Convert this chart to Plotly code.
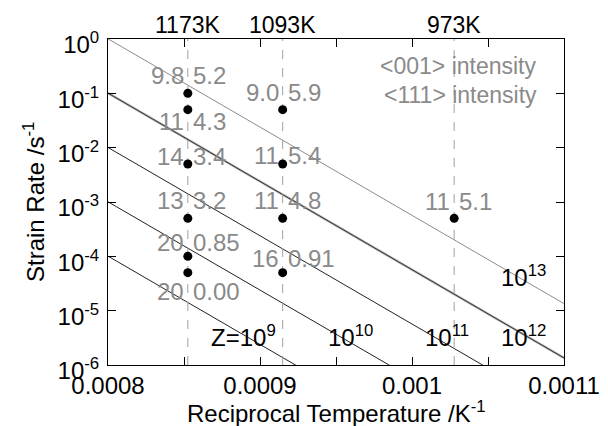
import numpy as np
import plotly.graph_objects as go

# ---------------- data ----------------
temps_K = [1173, 1093, 973]
temp_labels = ["1173K", "1093K", "973K"]

pt_T = [1173, 1173, 1173, 1173, 1173, 1173, 1093, 1093, 1093, 1093, 973]
pt_rate = [1e-1, 5e-2, 5e-3, 5e-4, 1e-4, 5e-5, 5e-2, 5e-3, 5e-4, 5e-5, 5e-4]
int_001 = ["9.8", "11", "14", "13", "20", "20", "9.0", "11", "11", "16", "11"]
int_111 = ["5.2", "4.3", "3.4", "3.2", "0.85", "0.00", "5.9", "5.4", "4.8", "0.91", "5.1"]

Z_values = [1e9, 1e10, 1e11, 1e12, 1e13]
Z_labels = ["Z=10<sup>9</sup>", "10<sup>10</sup>", "10<sup>11</sup>", "10<sup>12</sup>", "10<sup>13</sup>"]
Q_act = 311e3   # J/mol
R_gas = 8.314

x_tickvals = [0.0008, 0.00085, 0.0009, 0.00095, 0.001, 0.00105, 0.0011]
x_ticktext = ["0.0008", "", "0.0009", "", "0.001", "", "0.0011"]
y_tickvals = [1e-6, 1e-5, 1e-4, 1e-3, 1e-2, 1e-1, 1e0]
y_ticktext = ["10<sup>-6</sup>", "10<sup>-5</sup>", "10<sup>-4</sup>", "10<sup>-3</sup>",
              "10<sup>-2</sup>", "10<sup>-1</sup>", "10<sup>0</sup>"]

# ---------------- style (positions of text labels, px offsets) ----------------
label_dy = [-18, 12, -8, -18, -14, 19, -17, -9, -18, -14, -17]
Z_label_pos = [(0.000889, -5.47), (0.0009595, -5.47), (0.0010227, -5.47),
               (0.0010734, -5.47), (0.0010734, -4.365)]

FONT = "Liberation Sans, Arial, sans-serif"
GRAY_TXT = "#8a8a8a"

fig = go.Figure()

x_line = np.array([0.0008, 0.0011])

# Zener-Hollomon lines
for Z in Z_values:
    rate = Z * np.exp(-Q_act * x_line / R_gas)
    if Z == 1e13:
        fig.add_trace(go.Scatter(x=x_line, y=rate, mode="lines",
                                 line=dict(color="#8c8c8c", width=1), showlegend=False,
                                 hoverinfo="skip"))
    elif Z == 1e12:
        fig.add_trace(go.Scatter(x=x_line, y=rate, mode="lines",
                                 line=dict(color="#b4b4b4", width=2.5), showlegend=False,
                                 hoverinfo="skip"))
        fig.add_trace(go.Scatter(x=x_line, y=rate, mode="lines",
                                 line=dict(color="#333333", width=1), showlegend=False,
                                 hoverinfo="skip"))
    else:
        fig.add_trace(go.Scatter(x=x_line, y=rate, mode="lines",
                                 line=dict(color="#222222", width=1), showlegend=False,
                                 hoverinfo="skip"))

# vertical dashed temperature lines
for T in temps_K:
    fig.add_trace(go.Scatter(x=[1.0 / T, 1.0 / T], y=[1e-6, 1e0], mode="lines",
                             line=dict(color="#a0a0a0", width=1, dash="dash"),
                             showlegend=False, hoverinfo="skip"))

# data points
pt_x = [1.0 / T for T in pt_T]
fig.add_trace(go.Scatter(x=pt_x, y=pt_rate, mode="markers",
                         marker=dict(color="black", size=9), showlegend=False))

annotations = []
# intensity labels
for x, y, a, b, dy in zip(pt_x, pt_rate, int_001, int_111, label_dy):
    annotations.append(dict(x=x, y=np.log10(y), xref="x", yref="y", text=a,
                            showarrow=False, xanchor="right", yanchor="middle",
                            xshift=-2, yshift=-dy,
                            font=dict(family=FONT, size=24, color=GRAY_TXT)))
    annotations.append(dict(x=x, y=np.log10(y), xref="x", yref="y", text=b,
                            showarrow=False, xanchor="left", yanchor="middle",
                            xshift=3, yshift=-dy,
                            font=dict(family=FONT, size=24, color=GRAY_TXT)))

# Z labels
for (zx, zy), txt in zip(Z_label_pos, Z_labels):
    annotations.append(dict(x=zx, y=zy, xref="x", yref="y", text=txt, showarrow=False,
                            xanchor="center", yanchor="middle",
                            font=dict(family=FONT, size=24, color="black")))

# temperature labels on top
for T, lab in zip(temps_K, temp_labels):
    annotations.append(dict(x=1.0 / T, y=1, xref="x", yref="paper", text=lab,
                            showarrow=False, xanchor="center", yanchor="bottom",
                            yshift=-1, font=dict(family=FONT, size=23, color="black")))

# intensity legend text
annotations.append(dict(x=0.945, y=0.918, xref="paper", yref="paper",
                        text="&lt;001&gt; intensity", showarrow=False,
                        xanchor="right", yanchor="middle",
                        font=dict(family=FONT, size=23, color=GRAY_TXT)))
annotations.append(dict(x=0.945, y=0.829, xref="paper", yref="paper",
                        text="&lt;111&gt; intensity", showarrow=False,
                        xanchor="right", yanchor="middle",
                        font=dict(family=FONT, size=23, color=GRAY_TXT)))

# axis titles
annotations.append(dict(x=0.5, y=0, xref="paper", yref="paper",
                        text="Reciprocal Temperature /K<sup>-1</sup>", showarrow=False,
                        xanchor="center", yanchor="top", yshift=-30,
                        font=dict(family=FONT, size=24, color="black")))
annotations.append(dict(x=0, y=0.5, xref="paper", yref="paper",
                        text="Strain Rate /s<sup>-1</sup>", showarrow=False,
                        textangle=-90, xanchor="right", yanchor="middle", xshift=-57,
                        font=dict(family=FONT, size=24, color="black")))

fig.update_layout(
    width=608, height=426,
    margin=dict(l=100, r=52, t=31, b=69, autoexpand=False),
    paper_bgcolor="white", plot_bgcolor="white",
    font=dict(family=FONT, size=24, color="black"),
    annotations=annotations,
    xaxis=dict(range=[0.0008, 0.0011], tickvals=x_tickvals, ticktext=x_ticktext,
               automargin=False, ticklabelstandoff=-1,
               showgrid=False, zeroline=False, showline=True, linecolor="black",
               linewidth=1, mirror="ticks", ticks="inside", ticklen=8,
               tickcolor="black", tickfont=dict(family=FONT, size=24, color="black")),
    yaxis=dict(type="log", range=[-6, 0], tickvals=y_tickvals, ticktext=y_ticktext,
               automargin=False, ticklabelshift=6, ticklabelstandoff=3,
               showgrid=False, zeroline=False, showline=True, linecolor="black",
               linewidth=1, mirror="ticks", ticks="inside", ticklen=8,
               tickcolor="black", tickfont=dict(family=FONT, size=24, color="black")),
)

fig.write_html("out.html")
